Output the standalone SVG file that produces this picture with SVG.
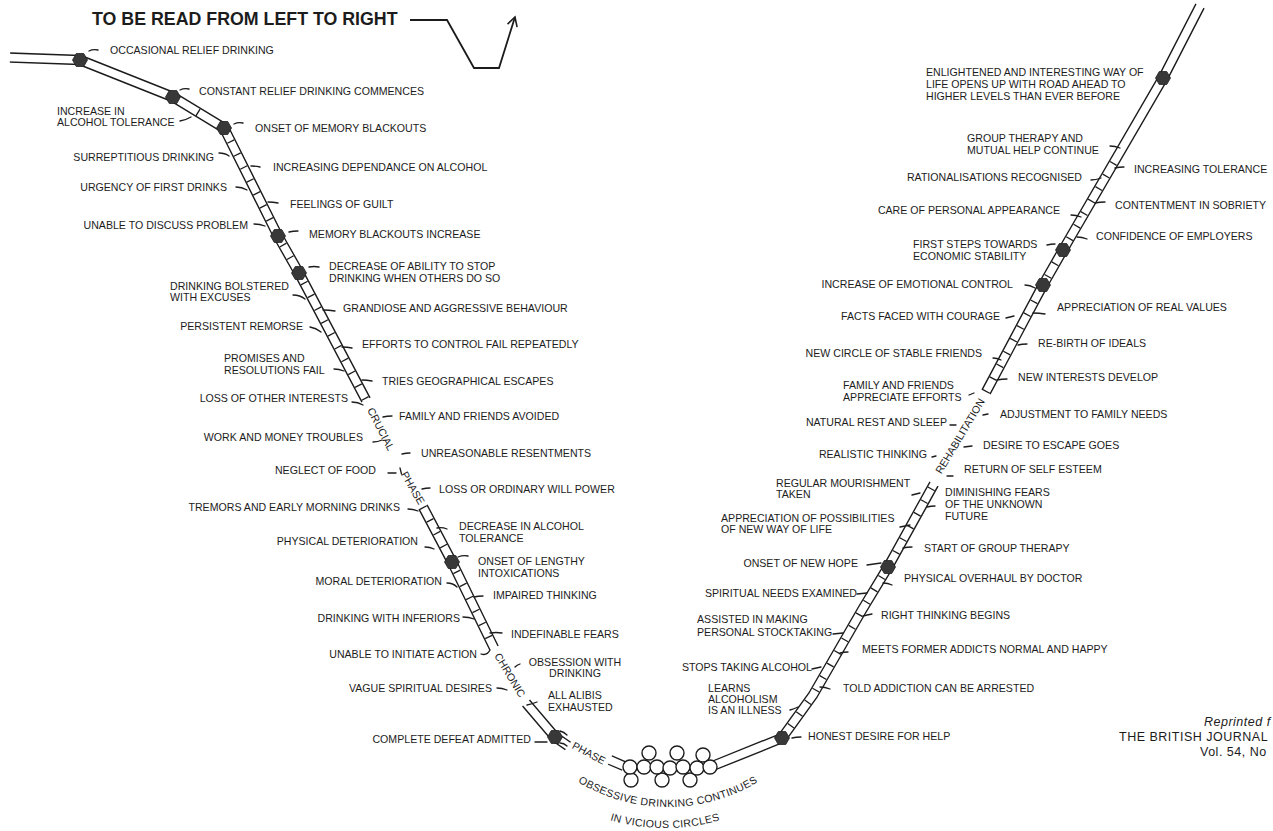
<svg xmlns="http://www.w3.org/2000/svg" xmlns:xlink="http://www.w3.org/1999/xlink" width="1273" height="831" viewBox="0 0 1273 831">
<style>
.t{font-family:"Liberation Sans",Arial,Helvetica,sans-serif;font-size:10.6px;fill:#1c1c1c}
.e{text-anchor:end}
.m{text-anchor:middle}
.ttl{font-family:"Liberation Sans",Arial,Helvetica,sans-serif;font-size:17.8px;font-weight:bold;fill:#1c1c1c}
.cr{font-family:"Liberation Sans",Arial,Helvetica,sans-serif;font-size:12.5px;letter-spacing:0.5px;fill:#1c1c1c}
.it{font-style:italic}
.tk{fill:none;stroke:#1c1c1c;stroke-width:1.3;stroke-linecap:round}
.rail{fill:none;stroke:#1c1c1c;stroke-width:10.5;stroke-linejoin:round}
.road{fill:none;stroke:#fff;stroke-width:7.7;stroke-linejoin:round}
.rung{fill:none;stroke:#1c1c1c;stroke-width:7.7;stroke-dasharray:1.3 13.2}
.ring{fill:#fff;stroke:#1c1c1c;stroke-width:1.4}
.hx{fill:#383838;stroke:#222;stroke-width:0.8}
.arr{fill:none;stroke:#1c1c1c;stroke-width:1.8;stroke-linejoin:miter}
</style>
<defs>
<polygon id="hex" points="7.5,0 3.75,6.5 -3.75,6.5 -7.5,0 -3.75,-6.5 3.75,-6.5"/>
<marker id="ah" viewBox="0 0 12 12" refX="10" refY="6" markerWidth="12" markerHeight="12" markerUnits="userSpaceOnUse" orient="auto">
<path d="M1 1 L10 6 L1 11" fill="none" stroke="#1c1c1c" stroke-width="1.6"/>
</marker>
<path id="arc1" d="M516.9 719.8 A174.5 174.5 0 0 0 819.1 719.8"/>
<path id="arc2" d="M495.7 730.3 A195.5 195.5 0 0 0 834.3 730.3"/>
</defs>
<rect width="1273" height="831" fill="#fff"/>

<g id="title">
<text class="ttl" x="92" y="25">TO BE READ FROM LEFT TO RIGHT</text>
<polyline class="arr" points="410,20 447,20 474,68 499,68 515,17" marker-end="url(#ah)"/>
</g>

<g id="connectors">
<path class="rail" d="M10 57.5 L80 60 L173 97 L224 128 L278 236 L299 273 L366 400"/>
<path class="road" d="M8 57.5 L80 60 L173 97 L224 128 L278 236 L299 273 L366.5 401"/>
<path class="rail" d="M423 507 L452 562 L494 648"/>
<path class="road" d="M422.5 506 L452 562 L494.5 649"/>
<path class="rail" d="M526 703 L555 737 L568 746"/>
<path class="road" d="M525.4 702.2 L555 737 L569 746.7"/>
<path class="rail" d="M610 760 L624 766"/>
<path class="road" d="M609 759.6 L625 766.5"/>
<path class="rail" d="M715 765 L782 738 L813 695 L862 610 L888 567 L934 484"/>
<path class="road" d="M714 765.4 L782 738 L813 695 L862 610 L888 567 L934.5 483"/>
<path class="rail" d="M986 392 L1043 285 L1063 250 L1163 78 L1200 6"/>
<path class="road" d="M985.5 393 L1043 285 L1063 250 L1163 78 L1201 4"/>
<line x1="195.9" y1="115.9" x2="200.1" y2="109.1" stroke="#1c1c1c" stroke-width="1.3"/>
<path class="rung" d="M224 128 L278 236 L299 273 L366 400"/>
<path class="rung" d="M423 507 L452 562 L494 648"/>
<path class="rung" d="M782 738 L813 695 L862 610 L888 567 L934 484"/>
<path class="rung" d="M986 392 L1043 285 L1063 250 L1120 152"/>
<g id="chain">
<circle class="ring" cx="649" cy="753" r="7"/>
<circle class="ring" cx="677" cy="753" r="7"/>
<circle class="ring" cx="703" cy="755" r="7"/>
<circle class="ring" cx="631" cy="780" r="7"/>
<circle class="ring" cx="662" cy="780" r="7"/>
<circle class="ring" cx="690" cy="780" r="7"/>
<circle class="ring" cx="630" cy="767" r="7"/>
<circle class="ring" cx="644" cy="767" r="7"/>
<circle class="ring" cx="657" cy="767" r="7"/>
<circle class="ring" cx="670" cy="768" r="7"/>
<circle class="ring" cx="683" cy="767" r="7"/>
<circle class="ring" cx="697" cy="768" r="7"/>
<circle class="ring" cx="710" cy="767" r="7"/>
</g>
</g>

<g id="hexes" class="hx">
<use href="#hex" x="80" y="60"/>
<use href="#hex" x="173" y="97"/>
<use href="#hex" x="224" y="128"/>
<use href="#hex" x="278" y="236"/>
<use href="#hex" x="299" y="273"/>
<use href="#hex" x="452" y="562"/>
<use href="#hex" x="555" y="737"/>
<use href="#hex" x="782" y="738"/>
<use href="#hex" x="888" y="567"/>
<use href="#hex" x="1043" y="285"/>
<use href="#hex" x="1063" y="250"/>
<use href="#hex" x="1163" y="78"/>
</g>

<g id="phases" class="t">
<text class="m" transform="translate(381,429) rotate(63)" y="3.8">CRUCIAL</text>
<text class="m" transform="translate(413,488) rotate(60)" y="3.8">PHASE</text>
<text class="m" transform="translate(510,675) rotate(59)" y="3.8">CHRONIC</text>
<text class="m" transform="translate(589,753) rotate(28)" y="3.8">PHASE</text>
<text class="m" transform="translate(960,436) rotate(-59)" y="3.8">REHABILITATION</text>
<text class="m" letter-spacing="0.3"><textPath href="#arc1" startOffset="50%">OBSESSIVE DRINKING CONTINUES</textPath></text>
<text class="m" letter-spacing="0.3"><textPath href="#arc2" startOffset="50%">IN VICIOUS CIRCLES</textPath></text>
</g>

<g id="n01"><path class="tk" d="M89 51 q4 -2 9 -1"/><text class="t" x="110" y="54">OCCASIONAL RELIEF DRINKING</text></g>
<g id="n02"><path class="tk" d="M180 90 q4 -2 9 -1"/><text class="t" x="199" y="95">CONSTANT RELIEF DRINKING COMMENCES</text></g>
<g id="n03"><path class="tk" d="M180 121 q6 -1 11 -4"/><text class="t" x="57" y="115">INCREASE IN</text><text class="t" x="57" y="126">ALCOHOL TOLERANCE</text></g>
<g id="n04"><path class="tk" d="M234 124 q4 -2 9 -1"/><text class="t" x="255" y="132">ONSET OF MEMORY BLACKOUTS</text></g>
<g id="n05"><path class="tk" d="M219 153 q6 0 10 3"/><text class="t e" x="214" y="161">SURREPTITIOUS DRINKING</text></g>
<g id="n06"><path class="tk" d="M251 166 q5 0 9 1"/><text class="t" x="273" y="171">INCREASING DEPENDANCE ON ALCOHOL</text></g>
<g id="n07"><path class="tk" d="M236 187 q6 0 11 3"/><text class="t e" x="227" y="191">URGENCY OF FIRST DRINKS</text></g>
<g id="n08"><path class="tk" d="M268 202 q5 0 10 1"/><text class="t" x="290" y="208">FEELINGS OF GUILT</text></g>
<g id="n09"><path class="tk" d="M254 224 q6 0 11 2"/><text class="t e" x="248" y="229">UNABLE TO DISCUSS PROBLEM</text></g>
<g id="n10"><path class="tk" d="M289 232 q4 -1 9 -1"/><text class="t" x="309" y="238">MEMORY BLACKOUTS INCREASE</text></g>
<g id="n11"><path class="tk" d="M309 267 q5 -1 10 0"/><text class="t" x="329" y="270">DECREASE OF ABILITY TO STOP</text><text class="t" x="329" y="282">DRINKING WHEN OTHERS DO SO</text></g>
<g id="n12"><path class="tk" d="M293 295 q7 0 12 4"/><text class="t" x="170" y="290">DRINKING BOLSTERED</text><text class="t" x="170" y="301">WITH EXCUSES</text></g>
<g id="n13"><path class="tk" d="M323 310 q6 0 12 1"/><text class="t" x="343" y="312">GRANDIOSE AND AGGRESSIVE BEHAVIOUR</text></g>
<g id="n14"><path class="tk" d="M310 327 q6 1 11 5"/><text class="t e" x="303" y="330">PERSISTENT REMORSE</text></g>
<g id="n15"><path class="tk" d="M342 347 q5 0 10 1"/><text class="t" x="362" y="348">EFFORTS TO CONTROL FAIL REPEATEDLY</text></g>
<g id="n16"><path class="tk" d="M334 369 q5 0 10 2"/><text class="t" x="224" y="362">PROMISES AND</text><text class="t" x="224" y="374">RESOLUTIONS FAIL</text></g>
<g id="n17"><path class="tk" d="M362 380 q5 0 10 1"/><text class="t" x="382" y="385">TRIES GEOGRAPHICAL ESCAPES</text></g>
<g id="n18"><path class="tk" d="M352 402 q6 0 11 3"/><text class="t e" x="348" y="402">LOSS OF OTHER INTERESTS</text></g>
<g id="n19"><path class="tk" d="M383 417 q4 -1 9 -1"/><text class="t" x="399" y="420">FAMILY AND FRIENDS AVOIDED</text></g>
<g id="n20"><path class="tk" d="M373 442 q5 0 9 -2"/><text class="t e" x="363" y="441">WORK AND MONEY TROUBLES</text></g>
<g id="n21"><path class="tk" d="M402 454 q4 -1 8 -1"/><text class="t" x="421" y="457">UNREASONABLE RESENTMENTS</text></g>
<g id="n22"><path class="tk" d="M388 473 l8 0 M400 468 l1.5 6"/><text class="t e" x="376" y="474">NEGLECT OF FOOD</text></g>
<g id="n23"><path class="tk" d="M422 489 q4 -1 8 -1"/><text class="t" x="439" y="493">LOSS OR ORDINARY WILL POWER</text></g>
<g id="n24"><path class="tk" d="M408 509 q5 0 10 2"/><text class="t e" x="400" y="511">TREMORS AND EARLY MORNING DRINKS</text></g>
<g id="n25"><path class="tk" d="M437 528 q5 -1 10 1"/><text class="t" x="459" y="530">DECREASE IN ALCOHOL</text><text class="t" x="459" y="542">TOLERANCE</text></g>
<g id="n26"><path class="tk" d="M425 547 q5 0 9 2"/><text class="t e" x="418" y="545">PHYSICAL DETERIORATION</text></g>
<g id="n27"><path class="tk" d="M458 557 q5 -2 10 -1"/><text class="t" x="478" y="565">ONSET OF LENGTHY</text><text class="t" x="478" y="577">INTOXICATIONS</text></g>
<g id="n28"><path class="tk" d="M447 583 q6 0 10 4"/><text class="t e" x="442" y="585">MORAL DETERIORATION</text></g>
<g id="n29"><path class="tk" d="M474 597 q4 -1 9 -1"/><text class="t" x="493" y="599">IMPAIRED THINKING</text></g>
<g id="n30"><path class="tk" d="M463 617 q6 0 11 2"/><text class="t e" x="460" y="622">DRINKING WITH INFERIORS</text></g>
<g id="n31"><path class="tk" d="M490 633 q6 -1 12 0"/><text class="t" x="511" y="638">INDEFINABLE FEARS</text></g>
<g id="n32"><path class="tk" d="M481 654 q6 2 9 -4"/><text class="t e" x="477" y="658">UNABLE TO INITIATE ACTION</text></g>
<g id="n33"><path class="tk" d="M515 667 q2 -2 5 -3"/><text class="t m" x="575" y="666">OBSESSION WITH</text><text class="t m" x="575" y="677">DRINKING</text></g>
<g id="n34"><path class="tk" d="M497 688 q5 0 10 2"/><text class="t e" x="492" y="692">VAGUE SPIRITUAL DESIRES</text></g>
<g id="n35"><path class="tk" d="M527 705 q5 -1 10 -3"/><text class="t" x="548" y="699">ALL ALIBIS</text><text class="t" x="548" y="711">EXHAUSTED</text></g>
<g id="n36"><path class="tk" d="M535 742 l12 0 M560 731 q4 1 7 4 M560 743 q4 0 7 3"/><text class="t e" x="531" y="743">COMPLETE DEFEAT ADMITTED</text></g>

<g id="n37"><text class="t" x="926" y="76">ENLIGHTENED AND INTERESTING WAY OF</text><text class="t" x="926" y="88">LIFE OPENS UP WITH ROAD AHEAD TO</text><text class="t" x="926" y="100">HIGHER LEVELS THAN EVER BEFORE</text></g>
<g id="n38"><path class="tk" d="M1110 146 q5 0 10 2"/><text class="t" x="967" y="142">GROUP THERAPY AND</text><text class="t" x="967" y="154">MUTUAL HELP CONTINUE</text></g>
<g id="n39"><path class="tk" d="M1115 168 q4 -1 9 -1"/><text class="t" x="1134" y="173">INCREASING TOLERANCE</text></g>
<g id="n40"><path class="tk" d="M1091 180 q5 0 10 -2"/><text class="t e" x="1082" y="181">RATIONALISATIONS RECOGNISED</text></g>
<g id="n41"><path class="tk" d="M1095 203 q5 -1 10 -1"/><text class="t" x="1115" y="209">CONTENTMENT IN SOBRIETY</text></g>
<g id="n42"><path class="tk" d="M1071 215 q5 0 10 2"/><text class="t e" x="1060" y="214">CARE OF PERSONAL APPEARANCE</text></g>
<g id="n43"><path class="tk" d="M1077 237 q5 0 10 2"/><text class="t" x="1096" y="240">CONFIDENCE OF EMPLOYERS</text></g>
<g id="n44"><path class="tk" d="M1047 245 q4 -1 8 -1"/><text class="t" x="913" y="248">FIRST STEPS TOWARDS</text><text class="t" x="913" y="260">ECONOMIC STABILITY</text></g>
<g id="n45"><path class="tk" d="M1025 285 q5 0 10 3"/><text class="t e" x="1013" y="288">INCREASE OF EMOTIONAL CONTROL</text></g>
<g id="n46"><path class="tk" d="M1033 313 q6 0 12 1"/><text class="t" x="1057" y="311">APPRECIATION OF REAL VALUES</text></g>
<g id="n47"><path class="tk" d="M1006 318 q4 -1 8 -2"/><text class="t e" x="1000" y="320">FACTS FACED WITH COURAGE</text></g>
<g id="n48"><path class="tk" d="M1018 345 q4 -1 9 -1"/><text class="t" x="1038" y="347">RE-BIRTH OF IDEALS</text></g>
<g id="n49"><path class="tk" d="M993 358 q4 0 8 2"/><text class="t e" x="982" y="357">NEW CIRCLE OF STABLE FRIENDS</text></g>
<g id="n50"><path class="tk" d="M997 380 q5 -1 10 -1"/><text class="t" x="1018" y="381">NEW INTERESTS DEVELOP</text></g>
<g id="n51"><path class="tk" d="M969 395 l5 -2"/><text class="t" x="843" y="389">FAMILY AND FRIENDS</text><text class="t" x="843" y="401">APPRECIATE EFFORTS</text></g>
<g id="n52"><path class="tk" d="M983 415 l5 -1"/><text class="t" x="1000" y="418">ADJUSTMENT TO FAMILY NEEDS</text></g>
<g id="n53"><path class="tk" d="M950 425 l6 0"/><text class="t e" x="947" y="426">NATURAL REST AND SLEEP</text></g>
<g id="n54"><path class="tk" d="M964 447 l8 -1"/><text class="t" x="983" y="449">DESIRE TO ESCAPE GOES</text></g>
<g id="n55"><path class="tk" d="M932 457 l4 -1"/><text class="t e" x="927" y="458">REALISTIC THINKING</text></g>
<g id="n56"><path class="tk" d="M947 476 l6 0"/><text class="t" x="964" y="473">RETURN OF SELF ESTEEM</text></g>
<g id="n57"><path class="tk" d="M912 495 q4 -1 8 -2"/><text class="t" x="776" y="487">REGULAR MOURISHMENT</text><text class="t" x="776" y="498">TAKEN</text></g>
<g id="n58"><path class="tk" d="M927 507 q4 -1 8 -1"/><text class="t" x="945" y="496">DIMINISHING FEARS</text><text class="t" x="945" y="508">OF THE UNKNOWN</text><text class="t" x="945" y="520">FUTURE</text></g>
<g id="n59"><path class="tk" d="M900 527 q5 -1 10 -2"/><text class="t" x="721" y="522">APPRECIATION OF POSSIBILITIES</text><text class="t" x="721" y="533">OF NEW WAY OF LIFE</text></g>
<g id="n60"><path class="tk" d="M903 548 q4 -1 9 -1"/><text class="t" x="924" y="552">START OF GROUP THERAPY</text></g>
<g id="n61"><path class="tk" d="M867 565 q7 -1 14 -2"/><text class="t e" x="858" y="567">ONSET OF NEW HOPE</text></g>
<g id="n62"><path class="tk" d="M883 583 q5 0 9 2"/><text class="t" x="904" y="582">PHYSICAL OVERHAUL BY DOCTOR</text></g>
<g id="n63"><path class="tk" d="M857 594 l10 -1"/><text class="t e" x="857" y="597">SPIRITUAL NEEDS EXAMINED</text></g>
<g id="n64"><path class="tk" d="M863 616 q4 -1 9 -2"/><text class="t" x="881" y="619">RIGHT THINKING BEGINS</text></g>
<g id="n65"><path class="tk" d="M833 634 l10 -1"/><text class="t" x="697" y="623">ASSISTED IN MAKING</text><text class="t" x="697" y="636">PERSONAL STOCKTAKING</text></g>
<g id="n66"><path class="tk" d="M840 653 q4 -1 8 -1"/><text class="t" x="862" y="653">MEETS FORMER ADDICTS NORMAL AND HAPPY</text></g>
<g id="n67"><path class="tk" d="M812 669 l9 -2"/><text class="t e" x="812" y="671">STOPS TAKING ALCOHOL</text></g>
<g id="n68"><path class="tk" d="M820 687 q5 0 10 2"/><text class="t" x="843" y="692">TOLD ADDICTION CAN BE ARRESTED</text></g>
<g id="n69"><path class="tk" d="M790 710 q4 -1 8 -3"/><text class="t" x="708" y="692">LEARNS</text><text class="t" x="708" y="703">ALCOHOLISM</text><text class="t" x="708" y="714">IS AN ILLNESS</text></g>
<g id="n70"><path class="tk" d="M792 738 q4 -1 9 -1"/><text class="t" x="808" y="740">HONEST DESIRE FOR HELP</text></g>

<g id="credit">
<text class="cr it" x="1204" y="726">Reprinted f</text>
<text class="cr" x="1119" y="741">THE BRITISH JOURNAL</text>
<text class="cr" x="1200" y="756">Vol. 54, No</text>
</g>
</svg>
